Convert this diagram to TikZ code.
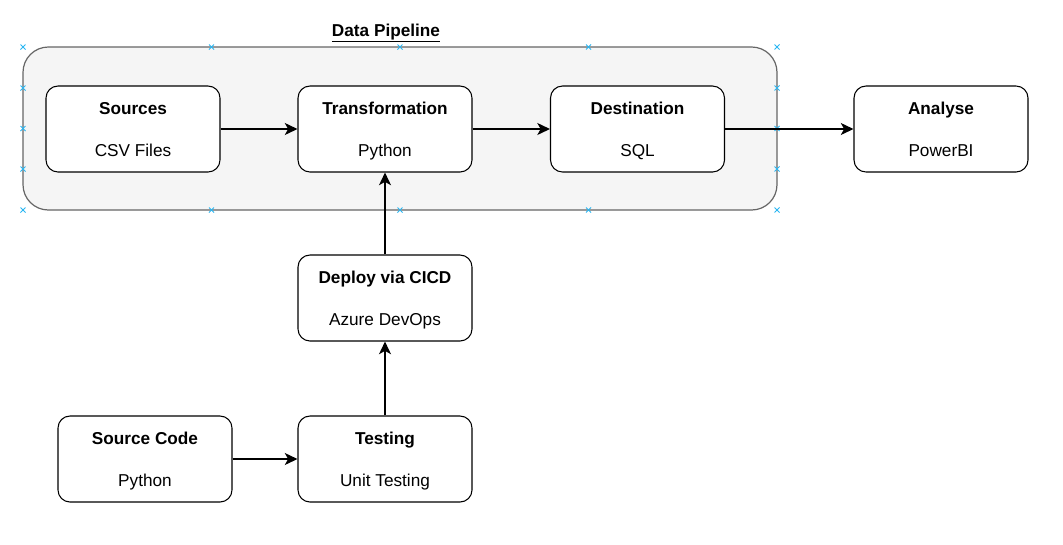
\documentclass[tikz,border=0pt]{standalone}
\usepackage{fontspec}
\setmainfont{Liberation Sans}
\usepackage{tikz}
\usetikzlibrary{arrows.meta}
\definecolor{pipefill}{HTML}{F5F5F5}
\definecolor{pipeline}{HTML}{666666}
\definecolor{handle}{HTML}{29B6F2}

\begin{document}
\begin{tikzpicture}[x=0.75pt,y=-0.75pt]
  \useasboundingbox (0,0) rectangle (1063,544);

  \tikzstyle{container}=[draw=pipeline, fill=pipefill, line width=0.9pt, rounded corners=19pt, minimum width=565.5pt, minimum height=122.25pt, inner sep=0pt];
  \tikzstyle{stage}=[draw, fill=white, line width=0.8pt, rounded corners=9pt, minimum width=130.5pt, minimum height=64.5pt, inner sep=0pt, align=center, text depth=0pt, font=\fontsize{12.9}{31.5}\selectfont];
  \tikzstyle{flow}=[line width=1.1pt, -{Stealth[length=9.5pt,width=9pt,inset=2.5pt]}];

  \node (pipeline) at (400, 128.5) [container]{};
  \node (title) at (386, 33) {\fontsize{12.9}{15}\selectfont\underline{\textbf{Data Pipeline}}};

  % connection handles of the container
  \foreach \x in {23, 211.5, 400, 588.5, 777} {
    \draw[handle, line width=0.6pt] (\x-2.5, 44.5) -- (\x+2.5, 49.5) (\x-2.5, 49.5) -- (\x+2.5, 44.5);
    \draw[handle, line width=0.6pt] (\x-2.5, 207.5) -- (\x+2.5, 212.5) (\x-2.5, 212.5) -- (\x+2.5, 207.5);
  }
  \foreach \y in {88, 128.5, 169} {
    \draw[handle, line width=0.6pt] (20.5, \y-2.5) -- (25.5, \y+2.5) (20.5, \y+2.5) -- (25.5, \y-2.5);
    \draw[handle, line width=0.6pt] (774.5, \y-2.5) -- (779.5, \y+2.5) (774.5, \y+2.5) -- (779.5, \y-2.5);
  }

  \node (sources) at (133, 129) [stage]{\textbf{Sources}\\CSV Files};
  \node (transformation) at (385, 129) [stage]{\textbf{Transformation}\\Python};
  \node (destination) at (637.5, 129) [stage]{\textbf{Destination}\\SQL};
  \node (analyse) at (941, 129) [stage]{\textbf{Analyse}\\PowerBI};

  \node (deploy) at (385, 298) [stage]{\textbf{Deploy via CICD}\\Azure DevOps};
  \node (source_code) at (145, 459) [stage]{\textbf{Source Code}\\Python};
  \node (testing) at (385, 459) [stage]{\textbf{Testing}\\Unit Testing};

  \draw[flow] (sources) -- (transformation);
  \draw[flow] (transformation) -- (destination);
  \draw[flow] (destination) -- (analyse);

  \draw[flow] (source_code) -- (testing);
  \draw[flow] (testing) -- (deploy);
  \draw[flow] (deploy) -- (transformation);

\end{tikzpicture}
\end{document}
